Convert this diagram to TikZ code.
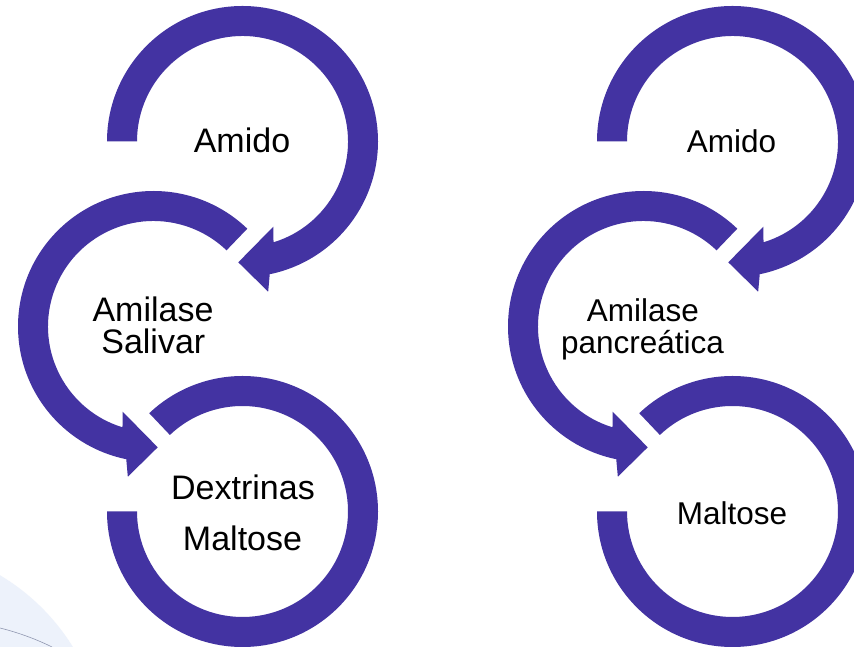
\documentclass[tikz,border=0pt]{standalone}
\usepackage{fontspec}
\setmainfont{Liberation Sans}
\definecolor{ringblue}{HTML}{4333A2}
\definecolor{bgblue}{HTML}{EDF2FB}
\definecolor{bgline}{HTML}{9097B0}
\tikzset{
  ring/.style={fill=ringblue, draw=none},
  lbl/.style={anchor=base, inner sep=0pt, text=black, font=\fontsize{34}{36}\selectfont},
  lblsmall/.style={anchor=base, inner sep=0pt, text=black, font=\fontsize{31.5}{33}\selectfont},
}
\begin{document}
\begin{tikzpicture}[x=1pt,y=1pt]
\useasboundingbox (0,0) rectangle (854,647);
\clip (0,0) rectangle (854,647);
\fill[white] (0,0) rectangle (854,647);
% background decoration
\fill[bgblue] (-110,-113) circle[radius=215pt];
\draw[bgline, line width=0.6pt] (0,19) .. controls (20,14) and (38,7) .. (52,0);
\foreach \dx/\nm in {0/L,490/R}{
  \begin{scope}[xshift=\dx pt]
    \coordinate (c1\nm) at (242.5,505.5);
    \coordinate (c2\nm) at (153.5,320.5);
    \coordinate (c3\nm) at (242.5,135.5);
    % ring 1: clockwise from left, over the top, arrow at bottom
    \fill[ring, shift={(c1\nm)}] (180:135.5pt) arc[start angle=180, end angle=-78.4, radius=135.5pt]
      -- (-80.3:152.4pt) -- (-92:120.9pt) -- (-70.1:90.6pt) -- (-72.9:105.5pt)
      arc[start angle=-72.9, end angle=180, radius=105.5pt] -- cycle;
    % ring 2: counter-clockwise from upper right, arrow at bottom
    \fill[ring, shift={(c2\nm)}] (46.2:135.5pt) arc[start angle=46.2, end angle=258.4, radius=135.5pt]
      -- (260.3:152.4pt) -- (272:120.9pt) -- (250.1:90.6pt) -- (252.9:105.5pt)
      arc[start angle=252.9, end angle=46.2, radius=105.5pt] -- cycle;
    % ring 3: counter-clockwise from left, under the bottom, ending upper left
    \fill[ring, shift={(c3\nm)}] (180:135.5pt) arc[start angle=180, end angle=493.5, radius=135.5pt]
      -- (493.5:105.5pt) arc[start angle=493.5, end angle=180, radius=105.5pt] -- cycle;
  \end{scope}
}
% labels, left column
\node[lbl] (amidoL) at (242,494.7) {Amido};
\node[lbl] (amilaseL) at (153,325.3) {Amilase};
\node[lbl] (salivar) at (153.3,293) {Salivar};
\node[lbl] (dextrinas) at (243,147.7) {Dextrinas};
\node[lbl] (maltoseL) at (242.5,96) {Maltose};
% labels, right column
\node[lblsmall] (amidoR) at (731.5,494.3) {Amido};
\node[lblsmall] (amilaseR) at (642.8,325.3) {Amilase};
\node[lblsmall] (pancreatica) at (642.5,293.7) {pancreática};
\node[lblsmall] (maltoseR) at (732,122.7) {Maltose};
\end{tikzpicture}
\end{document}
